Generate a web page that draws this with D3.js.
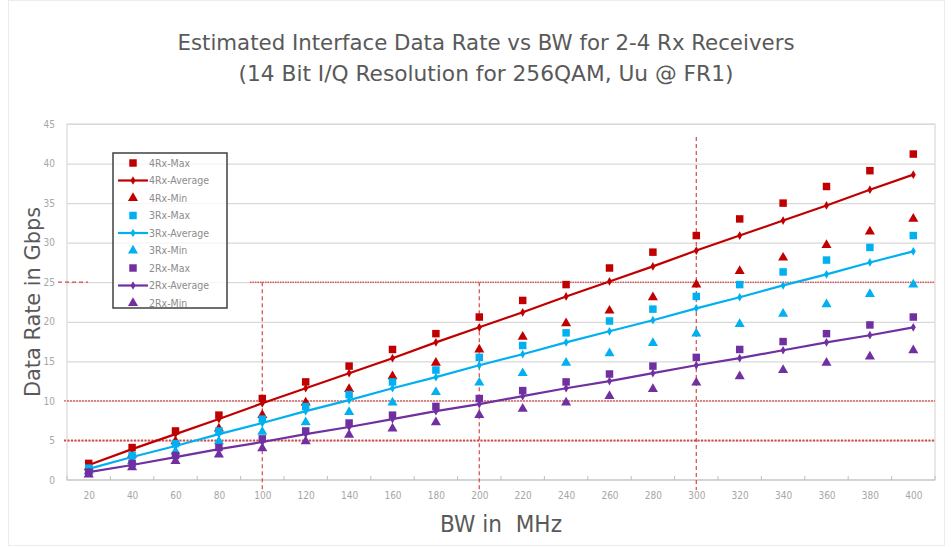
<!DOCTYPE html>
<html>
<head>
<meta charset="utf-8">
<script src="https://cdn.jsdelivr.net/npm/d3@7"></script>
<style>
  html, body { margin: 0; padding: 0; background: #fff; }
  svg { display: block; }
  text { font-family: "DejaVu Sans Condensed", "Liberation Sans Narrow", "DejaVu Sans", sans-serif; }
</style>
</head>
<body>
<svg id="chart" width="951" height="547"></svg>
<script>
// Bandwidth categories (MHz)
const bw = [20, 40, 60, 80, 100, 120, 140, 160, 180, 200, 220, 240, 260, 280, 300, 320, 340, 360, 380, 400];

// Data rate in Gbps per receiver count
const rx4Max = [2.1, 4.1, 6.2, 8.2, 10.3, 12.4, 14.4, 16.5, 18.5, 20.6, 22.7, 24.7, 26.8, 28.8, 30.9, 33.0, 35.0, 37.1, 39.1, 41.2];
const rx4Avg = [1.9, 3.9, 5.8, 7.7, 9.7, 11.6, 13.5, 15.4, 17.4, 19.3, 21.2, 23.2, 25.1, 27.0, 29.0, 30.9, 32.8, 34.7, 36.7, 38.6];
const rx4Min = [1.7, 3.3, 5.0, 6.6, 8.3, 9.9, 11.6, 13.2, 14.9, 16.6, 18.2, 19.9, 21.5, 23.2, 24.8, 26.5, 28.2, 29.8, 31.5, 33.1];
const rx3Max = [1.5, 3.1, 4.6, 6.2, 7.7, 9.3, 10.8, 12.4, 13.9, 15.5, 17.0, 18.6, 20.1, 21.6, 23.2, 24.7, 26.3, 27.8, 29.4, 30.9];
const rx3Avg = [1.4, 2.9, 4.3, 5.8, 7.2, 8.7, 10.1, 11.6, 13.0, 14.5, 15.9, 17.4, 18.8, 20.2, 21.7, 23.1, 24.6, 26.0, 27.5, 28.9];
const rx3Min = [1.2, 2.5, 3.7, 5.0, 6.2, 7.4, 8.7, 9.9, 11.2, 12.4, 13.6, 14.9, 16.1, 17.4, 18.6, 19.8, 21.1, 22.3, 23.6, 24.8];
const rx2Max = [1.0, 2.1, 3.1, 4.1, 5.2, 6.2, 7.2, 8.2, 9.3, 10.3, 11.3, 12.4, 13.4, 14.4, 15.5, 16.5, 17.5, 18.5, 19.6, 20.6];
const rx2Avg = [1.0, 1.9, 2.9, 3.9, 4.8, 5.8, 6.7, 7.7, 8.7, 9.6, 10.6, 11.6, 12.5, 13.5, 14.5, 15.4, 16.4, 17.4, 18.3, 19.3];
const rx2Min = [0.8, 1.7, 2.5, 3.3, 4.1, 5.0, 5.8, 6.6, 7.4, 8.3, 9.1, 9.9, 10.7, 11.6, 12.4, 13.2, 14.0, 14.9, 15.7, 16.5];

const yTicks = [0, 5, 10, 15, 20, 25, 30, 35, 40, 45];
const refRates = [25, 10, 5];        // horizontal reference levels (Gbps)
const refBw = [100, 200, 300];       // vertical reference bandwidths (MHz)

const titleLines = [
  "Estimated Interface Data Rate vs BW for 2-4 Rx Receivers",
  "(14 Bit I/Q Resolution for 256QAM, Uu @ FR1)"
];

const RED = "#c00000", BLUE = "#00b0f0", PURPLE = "#7030a0";
const series = [
  { name: "4Rx-Max",     values: rx4Max, color: RED,    kind: "square" },
  { name: "4Rx-Average", values: rx4Avg, color: RED,    kind: "line" },
  { name: "4Rx-Min",     values: rx4Min, color: RED,    kind: "triangle" },
  { name: "3Rx-Max",     values: rx3Max, color: BLUE,   kind: "square" },
  { name: "3Rx-Average", values: rx3Avg, color: BLUE,   kind: "line" },
  { name: "3Rx-Min",     values: rx3Min, color: BLUE,   kind: "triangle" },
  { name: "2Rx-Max",     values: rx2Max, color: PURPLE, kind: "square" },
  { name: "2Rx-Average", values: rx2Avg, color: PURPLE, kind: "line" },
  { name: "2Rx-Min",     values: rx2Min, color: PURPLE, kind: "triangle" }
];

const svg = d3.select("#chart");
const plot = { left: 67, right: 935, top: 124, bottom: 480 };

// outer chart frame
svg.append("rect")
  .attr("x", 8.5).attr("y", 0.5).attr("width", 936).attr("height", 545)
  .attr("fill", "#fff").attr("stroke", "#ececec");

const x = d3.scalePoint().domain(bw).range([plot.left, plot.right]).padding(0.5);
const y = d3.scaleLinear().domain([0, 45]).range([plot.bottom, plot.top]);

// title
const title = svg.append("g").attr("fill", "#595959").attr("font-size", 21);
title.append("text").attr("x", 486).attr("y", 50).attr("text-anchor", "middle")
  .attr("textLength", 617).attr("lengthAdjust", "spacingAndGlyphs").text(titleLines[0]);
title.append("text").attr("x", 486).attr("y", 81).attr("text-anchor", "middle")
  .attr("textLength", 495).attr("lengthAdjust", "spacingAndGlyphs").text(titleLines[1]);

// horizontal gridlines
svg.append("g")
  .attr("transform", `translate(${plot.left},0)`)
  .call(d3.axisLeft(y).tickValues(yTicks.slice(1)).tickSize(-(plot.right - plot.left)).tickFormat(""))
  .call(g => g.select(".domain").remove())
  .call(g => g.selectAll(".tick line").attr("stroke", "#d9d9d9").attr("stroke-width", 1.2));

// plot area frame
svg.append("rect")
  .attr("x", plot.left).attr("y", plot.top)
  .attr("width", plot.right - plot.left).attr("height", plot.bottom - plot.top)
  .attr("fill", "none").attr("stroke", "#d9d9d9").attr("stroke-width", 1.2);

// y tick labels
svg.append("g")
  .attr("transform", `translate(${plot.left - 12},0)`)
  .call(d3.axisLeft(y).tickValues(yTicks).tickSize(0).tickPadding(0))
  .call(g => g.select(".domain").remove())
  .call(g => g.selectAll("text").attr("fill", "#a6a6a6").attr("font-size", 10)
    .attr("font-family", "\"DejaVu Sans Condensed\", \"Liberation Sans Narrow\", sans-serif"));

// x axis line, category boundary ticks and labels
svg.append("line")
  .attr("x1", plot.left).attr("x2", plot.right)
  .attr("y1", plot.bottom).attr("y2", plot.bottom)
  .attr("stroke", "#bfbfbf").attr("stroke-width", 1.2);
const step = x.step();
svg.append("g").selectAll("line")
  .data(d3.range(bw.length + 1))
  .join("line")
  .attr("x1", i => x(bw[0]) - step / 2 + i * step)
  .attr("x2", i => x(bw[0]) - step / 2 + i * step)
  .attr("y1", plot.bottom - 4).attr("y2", plot.bottom)
  .attr("stroke", "#bfbfbf");
svg.append("g")
  .attr("transform", `translate(0,${plot.bottom + 12})`)
  .call(d3.axisBottom(x).tickSize(0).tickPadding(0))
  .call(g => g.select(".domain").remove())
  .call(g => g.selectAll("text").attr("fill", "#a6a6a6").attr("font-size", 10).attr("dy", "0.71em")
    .attr("font-family", "\"DejaVu Sans Condensed\", \"Liberation Sans Narrow\", sans-serif"));

// axis titles
svg.append("text")
  .attr("transform", `translate(40,${302}) rotate(-90)`)
  .attr("text-anchor", "middle").attr("fill", "#595959").attr("font-size", 22)
  .attr("textLength", 190).attr("lengthAdjust", "spacingAndGlyphs")
  .text("Data Rate in Gbps");
svg.append("text")
  .attr("x", 501).attr("y", 532)
  .attr("text-anchor", "middle").attr("fill", "#595959").attr("font-size", 23)
  .attr("textLength", 122).attr("lengthAdjust", "spacingAndGlyphs")
  .attr("xml:space", "preserve")
  .text("BW in  MHz");

// reference lines
const refColor = "#d42a2a";
const refs = svg.append("g").attr("stroke", refColor).attr("fill", "none");
// 25 Gbps: short stub beside the axis and a long dotted run
refs.append("line").attr("x1", 58).attr("x2", 88).attr("y1", y(refRates[0])).attr("y2", y(refRates[0]))
  .attr("stroke-width", 1.3).attr("stroke-dasharray", "4,3").attr("opacity", 0.85);
refs.append("line").attr("x1", 250).attr("x2", plot.right).attr("y1", y(refRates[0])).attr("y2", y(refRates[0]))
  .attr("stroke-width", 1.6).attr("stroke-dasharray", "1.5,1").attr("opacity", 0.75);
// 10 Gbps
refs.append("line").attr("x1", 64).attr("x2", plot.right).attr("y1", y(refRates[1])).attr("y2", y(refRates[1]))
  .attr("stroke-width", 1.3).attr("stroke-dasharray", "2,1").attr("opacity", 0.8);
// 5 Gbps
refs.append("line").attr("x1", 64).attr("x2", plot.right).attr("y1", y(refRates[2])).attr("y2", y(refRates[2]))
  .attr("stroke-width", 2).attr("stroke-dasharray", "2,1.5").attr("opacity", 0.85);
// vertical bandwidth markers
refs.selectAll("line.v").data(refBw).join("line").attr("class", "v")
  .attr("x1", d => x(d)).attr("x2", d => x(d))
  .attr("y1", d => d === 300 ? 137 : y(refRates[0]))
  .attr("y2", plot.bottom + 10)
  .attr("stroke-width", 1.3).attr("stroke-dasharray", "4,3").attr("opacity", 0.8);

// marker shapes
const sqr = d3.symbol().type(d3.symbolSquare).size(56);
const tri = d3.symbol().type(d3.symbolTriangle).size(44);
const dia = d3.symbol().type(d3.symbolDiamond).size(22);

const marks = svg.append("g");
series.forEach(s => {
  const g = marks.append("g");
  if (s.kind === "line") {
    g.append("path")
      .datum(s.values)
      .attr("fill", "none").attr("stroke", s.color).attr("stroke-width", 2.2)
      .attr("d", d3.line().x((v, i) => x(bw[i])).y(v => y(v)));
    g.selectAll("path.m").data(s.values).join("path").attr("class", "m")
      .attr("d", dia).attr("fill", s.color)
      .attr("transform", (v, i) => `translate(${x(bw[i])},${y(v)})`);
  } else {
    g.selectAll("path.m").data(s.values).join("path").attr("class", "m")
      .attr("d", s.kind === "square" ? sqr : tri).attr("fill", s.color)
      .attr("transform", (v, i) => `translate(${x(bw[i])},${y(v) + (s.kind === "triangle" ? 0.8 : 0)})`);
  }
});

// legend
const lg = svg.append("g");
lg.append("rect").attr("x", 113).attr("y", 153).attr("width", 114).attr("height", 155)
  .attr("fill", "#fff").attr("fill-opacity", 0.75).attr("stroke", "#404040").attr("stroke-width", 1.5);
const rowH = 17.5;
series.forEach((s, i) => {
  const cy = 163 + i * rowH;
  const row = lg.append("g").attr("transform", `translate(133,${cy})`);
  if (s.kind === "line") {
    row.append("line").attr("x1", -15).attr("x2", 15).attr("stroke", s.color).attr("stroke-width", 2.2);
    row.append("path").attr("d", dia).attr("fill", s.color);
  } else {
    row.append("path").attr("d", s.kind === "square" ? sqr : tri).attr("fill", s.color);
  }
  row.append("text").attr("x", 16).attr("dy", "0.35em").attr("font-size", 10.5)
    .attr("fill", "#8c8c8c").text(s.name);
});
</script>
</body>
</html>
